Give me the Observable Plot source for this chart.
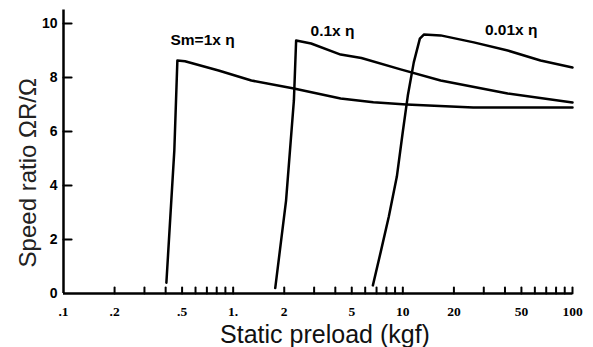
<!DOCTYPE html>
<html>
<head>
<meta charset="utf-8">
<script src="https://cdn.jsdelivr.net/npm/d3@7"></script>
<script src="https://cdn.jsdelivr.net/npm/@observablehq/plot@0.6"></script>
<style>
  html, body { margin: 0; padding: 0; background: #fff; }
  svg { display: block; }
</style>
</head>
<body>
<div id="chart"></div>
<script>
// ---- data ----
const seriesNames = ["Sm=1x η", "0.1x η", "0.01x η"];

// Static preload (kgf) / speed ratio, curve Sm = 1 x η
const s1Preload = [0.404, 0.45, 0.469, 0.52, 0.82, 1.28, 2.28, 4.3, 6.7, 10.5, 26, 100];
const s1Ratio   = [0.40, 5.30, 8.63, 8.60, 8.26, 7.89, 7.59, 7.22, 7.08, 7.00, 6.89, 6.89];

// curve 0.1 x η
const s2Preload = [1.77, 2.05, 2.28, 2.35, 2.88, 4.3, 5.7, 9.7, 16.7, 41.5, 100];
const s2Ratio   = [0.20, 3.44, 7.15, 9.37, 9.26, 8.85, 8.72, 8.30, 7.89, 7.41, 7.07];

// curve 0.01 x η
const s3Preload = [6.66, 7.42, 8.27, 9.22, 10.0, 10.7, 11.6, 12.6, 13.3, 16.7, 26.2, 41.5, 64.8, 100];
const s3Ratio   = [0.30, 1.56, 2.85, 4.33, 6.00, 7.33, 8.56, 9.44, 9.59, 9.56, 9.30, 9.00, 8.63, 8.37];

// curve label anchors (data units)
const labelPreload = [0.66, 3.85, 43.5];
const labelRatio   = [9.40, 9.72, 9.76];

// axes
const xTickValues = [0.1, 0.2, 0.5, 1, 2, 5, 10, 20, 50, 100];
const xTickLabels = [".1", ".2", ".5", "1.", "2", "5", "10", "20", "50", "100"];
const xMinorTicks = [0.2, 0.3, 0.4, 0.5, 0.6, 0.7, 0.8, 0.9, 1,
                     2, 3, 4, 5, 6, 7, 8, 9, 10,
                     20, 30, 40, 50, 60, 70, 80, 90, 100];
const yTickValues = [0, 2, 4, 6, 8, 10];
const yTickLabels = ["0", "2", "4", "6", "8", "10"];
const xTitle = "Static preload (kgf)";
const yTitle = "Speed ratio ΩR/Ω";

// ---- build tables ----
const curves = [
  ...s1Preload.map((p, i) => ({series: seriesNames[0], preload: p, ratio: s1Ratio[i]})),
  ...s2Preload.map((p, i) => ({series: seriesNames[1], preload: p, ratio: s2Ratio[i]})),
  ...s3Preload.map((p, i) => ({series: seriesNames[2], preload: p, ratio: s3Ratio[i]}))
];
const labels = seriesNames.map((s, i) => ({text: s, preload: labelPreload[i], ratio: labelRatio[i]}));
const xTicksTable = xTickValues.map((v, i) => ({v, label: xTickLabels[i]}));
const yTicksTable = yTickValues.map((v, i) => ({v, label: yTickLabels[i]}));

const tickFont = "'Liberation Serif', 'DejaVu Serif', serif";
const narrowFont = "'Liberation Sans Narrow', 'Liberation Sans', Arial, sans-serif";
const sansFont = "'Liberation Sans', Arial, sans-serif";

// plain straight tick shape (no arrowhead)
const tickShape = {draw(context, l) { context.moveTo(0, 0); context.lineTo(0, -l); }};

const chart = Plot.plot({
  width: 593,
  height: 347,
  marginLeft: 63,
  marginRight: 21,
  marginTop: 9.5,
  marginBottom: 54,
  style: {background: "#fff", color: "#000", overflow: "visible"},
  x: {type: "log", domain: [0.1, 100], axis: null},
  y: {domain: [0, 10.5], axis: null},
  marks: [
    // axis lines
    Plot.ruleX([0.1], {stroke: "#000", strokeWidth: 2.5}),
    Plot.ruleY([0], {stroke: "#000", strokeWidth: 2.5}),
    // inward ticks
    Plot.vector(xMinorTicks, {x: d => d, y: 0, length: 6, rotate: 0, anchor: "start", shape: tickShape,
      stroke: "#000", strokeWidth: 2}),
    Plot.vector(yTickValues.slice(1), {x: 0.1, y: d => d, length: 8, rotate: 90, anchor: "start",
      shape: tickShape, stroke: "#000", strokeWidth: 2.2}),
    // tick labels
    Plot.text(xTicksTable, {x: "v", frameAnchor: "bottom", dy: 18, lineAnchor: "middle", text: "label",
      fontFamily: tickFont, fontWeight: "bold", fontSize: 13.5, fill: "#000"}),
    Plot.text(yTicksTable, {y: "v", frameAnchor: "left", dx: -6, textAnchor: "end", lineAnchor: "middle",
      text: "label", fontFamily: narrowFont, fontWeight: "bold", fontSize: 14, fill: "#000"}),
    // curves
    Plot.line(curves, {x: "preload", y: "ratio", z: "series", stroke: "#000", strokeWidth: 2.5,
      strokeLinejoin: "round", strokeLinecap: "round"}),
    // curve labels
    Plot.text(labels, {x: "preload", y: "ratio", text: "text", fontFamily: sansFont,
      fontWeight: "bold", fontSize: 15.5, fill: "#000"}),
    // axis titles
    Plot.text([xTitle], {frameAnchor: "bottom", dx: 7, dy: 41, lineAnchor: "middle", textAnchor: "middle",
      text: d => d, fontFamily: sansFont, fontSize: 25, fill: "#111"}),
    Plot.text([yTitle], {frameAnchor: "left", dx: -35, dy: 21, rotate: -90, textAnchor: "middle",
      lineAnchor: "middle", text: d => d, fontFamily: sansFont, fontSize: 24, fill: "#222",
      ariaLabel: "y-title"})
  ]
});

// rich formatting of the y title (italic Ω, subscript R)
const yt = d3.select(chart).select('g[aria-label="y-title"] text');
if (!yt.empty()) {
  yt.text(null);
  yt.append("tspan").text("Speed ratio ");
  yt.append("tspan").attr("font-style", "italic").attr("font-family", "'Liberation Serif', serif")
    .attr("fill", "#555").text("Ω");
  yt.append("tspan").attr("font-size", "15").attr("dy", "6").attr("fill", "#555").text("R");
  yt.append("tspan").attr("dy", "-6").attr("fill", "#555").text("/");
  yt.append("tspan").attr("font-style", "italic").attr("font-family", "'Liberation Serif', serif")
    .attr("fill", "#555").text("Ω");
}

document.getElementById("chart").appendChild(chart);
</script>
</body>
</html>
